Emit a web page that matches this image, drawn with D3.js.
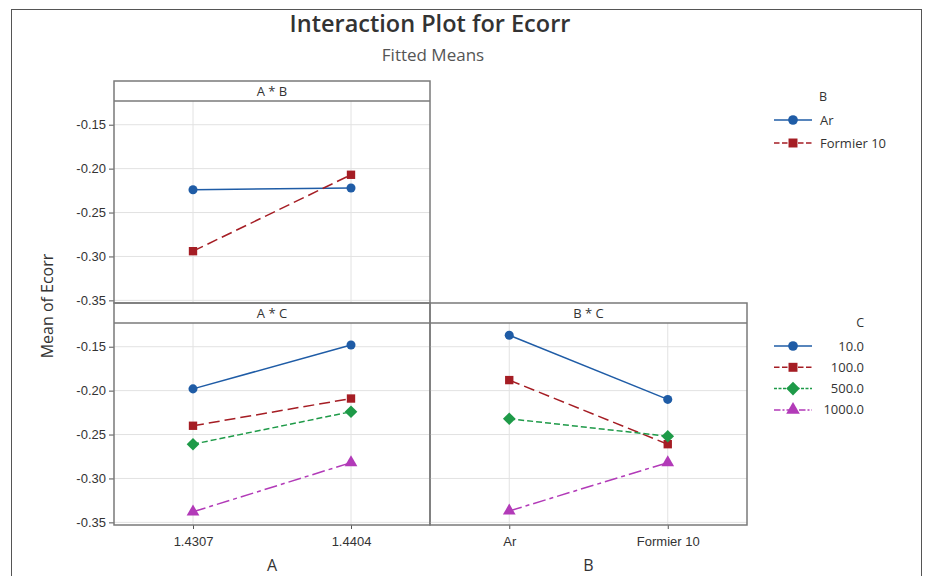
<!DOCTYPE html>
<html>
<head>
<meta charset="utf-8">
<script src="https://cdn.jsdelivr.net/npm/d3@7"></script>
<style>
  body { margin: 0; background: #fff; }
  svg { display: block; font-family: "Open Sans", "Noto Sans", sans-serif; }
  .tick text { fill: #333; font-size: 13px; }
  .tick line { stroke: #555; }
  .domain { display: none; }
</style>
</head>
<body>
<div id="chart"></div>
<script>
// levels of the factors
const aLevels = ['1.4307', '1.4404'];
const bLevels = ['Ar', 'Formier 10'];
const cLevels = ['10.0', '100.0', '500.0', '1000.0'];

// fitted means, A * B
const abAr = [-0.224, -0.222];
const abFormier = [-0.294, -0.207];

// fitted means, A * C
const acC10 = [-0.198, -0.148];
const acC100 = [-0.240, -0.209];
const acC500 = [-0.261, -0.224];
const acC1000 = [-0.338, -0.282];

// fitted means, B * C
const bcC10 = [-0.137, -0.210];
const bcC100 = [-0.188, -0.261];
const bcC500 = [-0.232, -0.252];
const bcC1000 = [-0.337, -0.282];

const yTicks = [-0.15, -0.20, -0.25, -0.30, -0.35];

// rotated square for the 500.0 series
const diamondSym = {
  draw(ctx, size) {
    const r = Math.sqrt(size / 2);
    ctx.moveTo(0, -r); ctx.lineTo(r, 0); ctx.lineTo(0, r); ctx.lineTo(-r, 0); ctx.closePath();
  }
};

const styles = [
  { color: '#1f5ca6', dash: null, shape: d3.symbolCircle, size: 64 },
  { color: '#a51d24', dash: '11,5', shape: d3.symbolSquare, size: 70 },
  { color: '#1e9a48', dash: '6,3', shape: diamondSym, size: 80 },
  { color: '#b23ab8', dash: '13,4,4,4', shape: d3.symbolTriangle, size: 70 }
];

const fmt = d => d3.format('.2f')(d).replace('\u2212', '-');

const svg = d3.select('#chart').append('svg')
  .attr('width', 928)
  .attr('height', 576);

// outer frame
svg.append('rect')
  .attr('x', 11.5).attr('y', 9.5)
  .attr('width', 910).attr('height', 600)
  .attr('fill', 'none').attr('stroke', '#555').attr('stroke-width', 1);

svg.append('text')
  .attr('x', 430).attr('y', 32)
  .attr('text-anchor', 'middle')
  .attr('font-size', 23.5).attr('font-weight', 600)
  .attr('fill', '#333')
  .text('Interaction Plot for Ecorr');

svg.append('text')
  .attr('x', 433).attr('y', 61)
  .attr('text-anchor', 'middle')
  .attr('font-size', 17)
  .attr('fill', '#555')
  .text('Fitted Means');

svg.append('text')
  .attr('transform', 'translate(53,306) rotate(-90)')
  .attr('text-anchor', 'middle')
  .attr('font-size', 16)
  .attr('fill', '#333')
  .text('Mean of Ecorr');

const stripH = 20;
const plotH = 202;
const y = d3.scaleLinear().domain([-0.353, -0.123]).range([plotH, 0]);

function drawPanel(opts) {
  const { x0, top, w, label, levels, series, showY, showX, xTitle } = opts;
  const g = svg.append('g').attr('transform', `translate(${x0},${top})`);
  const x = d3.scalePoint().domain(levels).range([0, w]).padding(0.5);
  const pg = g.append('g').attr('transform', `translate(0,${stripH})`);

  // grid
  pg.selectAll('.hgrid').data(yTicks).enter().append('line')
    .attr('x1', 0).attr('x2', w)
    .attr('y1', d => y(d)).attr('y2', d => y(d))
    .attr('stroke', '#e2e2e2');
  pg.selectAll('.vgrid').data(levels).enter().append('line')
    .attr('x1', d => x(d)).attr('x2', d => x(d))
    .attr('y1', 0).attr('y2', plotH)
    .attr('stroke', '#e2e2e2');

  const line = d3.line().x((d, i) => x(levels[i])).y(d => y(d));
  series.forEach((vals, k) => {
    const st = styles[k];
    pg.append('path')
      .datum(vals)
      .attr('d', line)
      .attr('fill', 'none')
      .attr('stroke', st.color)
      .attr('stroke-width', 1.5)
      .attr('stroke-dasharray', st.dash);
    pg.selectAll('.pt' + k).data(vals).enter().append('path')
      .attr('transform', (d, i) => `translate(${x(levels[i])},${y(d)})`)
      .attr('d', d3.symbol().type(st.shape).size(st.size))
      .attr('fill', st.color);
  });

  if (showY) {
    pg.append('g')
      .call(d3.axisLeft(y).tickValues(yTicks).tickFormat(fmt).tickSize(5).tickPadding(3));
  }
  if (showX) {
    pg.append('g')
      .attr('transform', `translate(0,${plotH})`)
      .call(d3.axisBottom(x).tickSize(4).tickPadding(8));
    g.append('text')
      .attr('x', w / 2).attr('y', stripH + plotH + 46)
      .attr('text-anchor', 'middle')
      .attr('font-size', 16).attr('fill', '#333')
      .text(xTitle);
  }

  // strip and frame
  g.append('rect')
    .attr('x', 0).attr('y', 0).attr('width', w).attr('height', stripH + plotH)
    .attr('fill', 'none').attr('stroke', '#7a7a7a').attr('stroke-width', 1.5);
  g.append('line')
    .attr('x1', 0).attr('x2', w).attr('y1', stripH).attr('y2', stripH)
    .attr('stroke', '#7a7a7a').attr('stroke-width', 1.5);
  g.append('text')
    .attr('x', w / 2).attr('y', 15)
    .attr('text-anchor', 'middle')
    .attr('font-size', 13).attr('fill', '#333')
    .text(label);
}

drawPanel({ x0: 114, top: 81, w: 316, label: 'A * B', levels: aLevels,
  series: [abAr, abFormier], showY: true, showX: false });
drawPanel({ x0: 114, top: 303, w: 316, label: 'A * C', levels: aLevels,
  series: [acC10, acC100, acC500, acC1000], showY: true, showX: true, xTitle: 'A' });
drawPanel({ x0: 430, top: 303, w: 317, label: 'B * C', levels: bLevels,
  series: [bcC10, bcC100, bcC500, bcC1000], showY: false, showX: true, xTitle: 'B' });

function drawLegend(x0, y0, title, labels, anchorEnd, gap) {
  const g = svg.append('g').attr('transform', `translate(${x0},${y0})`);
  g.append('text')
    .attr('x', anchorEnd ? 90 : 45).attr('y', 0)
    .attr('text-anchor', anchorEnd ? 'end' : 'start')
    .attr('font-size', 12.5).attr('fill', '#333')
    .text(title);
  labels.forEach((lab, k) => {
    const st = styles[k];
    const ly = 19 + k * gap;
    g.append('line')
      .attr('x1', 0).attr('x2', 38).attr('y1', ly).attr('y2', ly)
      .attr('stroke', st.color).attr('stroke-width', 1.5)
      .attr('stroke-dasharray', st.dash ? st.dash.split(',').map(v => v * 0.5).join(',') : null);
    g.append('path')
      .attr('transform', `translate(19,${ly})`)
      .attr('d', d3.symbol().type(st.shape).size(st.size * 1.15))
      .attr('fill', st.color);
    g.append('text')
      .attr('x', anchorEnd ? 90 : 46).attr('y', ly + 4.5)
      .attr('text-anchor', anchorEnd ? 'end' : 'start')
      .attr('font-size', 13).attr('fill', '#333')
      .text(lab);
  });
}

drawLegend(774, 101, 'B', bLevels, false, 23);
drawLegend(774, 327, 'C', cLevels, true, 21.3);
</script>
</body>
</html>
